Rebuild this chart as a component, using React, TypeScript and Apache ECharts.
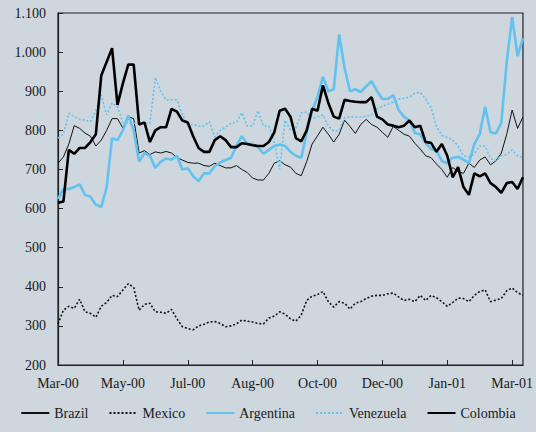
import React, { useEffect, useRef } from "react";
import * as echarts from "echarts";

const tickLabels = ["Mar-00", "May-00", "Jul-00", "Aug-00", "Oct-00", "Dec-00", "Jan-01", "Mar-01"];
const pointsPerTick = 12;

const brazil = [
  716, 732, 765, 812, 805, 793, 785, 760, 775, 800, 830, 830, 806, 835, 830, 742, 748, 738, 745, 742,
  746, 742, 730, 724, 718, 716, 716, 710, 708, 716, 710, 704, 704, 710, 700, 692, 678, 673, 673, 690,
  716, 722, 712, 706, 690, 684, 720, 765, 786, 808, 790, 770, 790, 826, 810, 792, 815, 828, 815, 808,
  795, 782, 810, 800, 790, 785, 767, 752, 735, 730, 714, 700, 680, 705, 695, 690, 716, 705, 724, 732,
  712, 722, 742, 790, 852, 805, 834,
];

const mexico = [
  305, 340, 350, 345, 368, 336, 332, 322, 350, 360, 378, 375, 392, 408, 398, 340, 355, 358, 336, 335,
  332, 342, 318, 298, 293, 290, 300, 304, 310, 311, 306, 298, 300, 305, 315, 312, 310, 306, 305, 320,
  325, 336, 330, 318, 312, 328, 365, 376, 380, 388, 362, 348, 362, 358, 343, 358, 362, 370, 376, 378,
  378, 382, 384, 374, 365, 368, 362, 378, 365, 378, 372, 362, 350, 360, 371, 370, 362, 378, 388, 392,
  362, 366, 370, 390, 397, 385, 378,
];

const argentina = [
  625, 650, 650, 655, 662, 635, 630, 610, 604, 655, 780, 775, 800, 838, 800, 720, 742, 735, 704, 720,
  728, 725, 735, 700, 703, 683, 670, 690, 690, 708, 718, 724, 730, 760, 785, 765, 765, 757, 740, 750,
  760, 764, 760, 745, 735, 730, 795, 850, 885, 937, 900, 905, 1045, 960, 900, 905, 898, 912, 926, 900,
  880, 880, 890, 852, 835, 825, 793, 790, 767, 752, 748, 722, 716, 730, 732, 725, 716, 765, 790, 860,
  795, 792, 820, 975, 1090, 990, 1035,
];

const venezuela = [
  780, 790, 844, 835, 828, 826, 822, 850, 890, 840, 870, 860, 820, 818, 818, 818, 818, 818, 935, 900,
  878, 878, 878, 840, 815, 815, 811, 811, 822, 783, 800, 808, 818, 820, 845, 811, 811, 850, 811, 811,
  770, 700, 826, 800, 805, 845, 847, 830, 835, 840, 811, 798, 800, 832, 834, 834, 834, 836, 840, 855,
  862, 867, 872, 880, 882, 885, 895, 897, 880, 858, 810, 787, 782, 775, 760, 735, 732, 740, 760, 760,
  728, 722, 735, 738, 750, 735, 730,
];

const colombia = [
  615, 618, 750, 740, 755, 755, 770, 790, 940, 975, 1010, 865, 920, 968, 968, 815, 820, 770, 800, 808,
  808, 855, 848, 825, 820, 785, 755, 745, 745, 775, 785, 775, 757, 757, 767, 765, 762, 760, 760, 770,
  795, 850, 855, 835, 780, 772, 800, 855, 850, 915, 870, 835, 830, 878, 875, 873, 872, 872, 885, 835,
  828, 815, 812, 808, 812, 825, 808, 812, 770, 768, 745, 765, 735, 680, 706, 655, 635, 690, 682, 690,
  665, 655, 640, 665, 668, 650, 680,
];

const categories = brazil.map((_, i) =>
  i % pointsPerTick === 0 ? tickLabels[i / pointsPerTick] : `p${i}`
);

const FONT = "Liberation Serif";
const BG = "#ced6de";
const BLUE = "#62c2ef";

export default function App() {
  const ref = useRef<HTMLDivElement>(null);

  useEffect(() => {
    if (!ref.current) return;
    const chart = echarts.init(ref.current, undefined, { renderer: "svg" });
    const mk = (name: string, data: number[], color: string, width: number, type: any) => ({
      name,
      type: "line",
      data,
      symbol: "none",
      showSymbol: false,
      lineStyle: { color, width, type },
      itemStyle: { color },
      z: name === "Colombia" ? 5 : name === "Argentina" ? 4 : 3,
    });
    chart.setOption({
      animation: false,
      backgroundColor: BG,
      textStyle: { fontFamily: FONT },
      grid: {
        left: 58,
        right: 12,
        top: 13,
        bottom: 67,
        show: true,
        borderColor: "#222",
        borderWidth: 1.2,
        backgroundColor: "transparent",
      },
      legend: {
        bottom: 7,
        left: "center",
        itemWidth: 28,
        itemHeight: 12,
        itemGap: 20,
        itemStyle: { opacity: 0 },
        textStyle: { fontFamily: FONT, fontSize: 14, color: "#1a1a1a" },
        data: ["Brazil", "Mexico", "Argentina", "Venezuela", "Colombia"],
      },
      xAxis: {
        type: "category",
        data: categories,
        boundaryGap: false,
        axisLine: { lineStyle: { color: "#222", width: 1.2 } },
        axisTick: {
          inside: true,
          length: 5,
          interval: pointsPerTick - 1,
          lineStyle: { color: "#222" },
        },
        axisLabel: {
          interval: pointsPerTick - 1,
          margin: 11,
          fontFamily: FONT,
          fontSize: 14,
          color: "#1a1a1a",
          formatter: (v: string) => (v.startsWith("p") ? "" : v),
        },
        splitLine: { show: false },
      },
      yAxis: {
        type: "value",
        min: 200,
        max: 1100,
        interval: 100,
        axisLine: { show: true, lineStyle: { color: "#222", width: 1.2 } },
        axisTick: { show: true, inside: true, length: 5, lineStyle: { color: "#222" } },
        axisLabel: {
          margin: 12,
          fontFamily: FONT,
          fontSize: 14,
          color: "#1a1a1a",
          formatter: (v: number) =>
            v >= 1000 ? `${Math.floor(v / 1000)}.${String(v % 1000).padStart(3, "0")}` : String(v),
        },
        splitLine: { show: false },
      },
      series: [
        mk("Brazil", brazil, "#111", 1, "solid"),
        mk("Mexico", mexico, "#111", 1.6, [2, 2]),
        mk("Argentina", argentina, BLUE, 2.6, "solid"),
        mk("Venezuela", venezuela, BLUE, 1.6, [2, 2]),
        mk("Colombia", colombia, "#000", 2.6, "solid"),
      ],
    });
    return () => chart.dispose();
  }, []);

  return (
    <div
      ref={ref}
      style={{ position: "fixed", left: 0, top: 0, width: 536, height: 432, background: BG }}
    />
  );
}
